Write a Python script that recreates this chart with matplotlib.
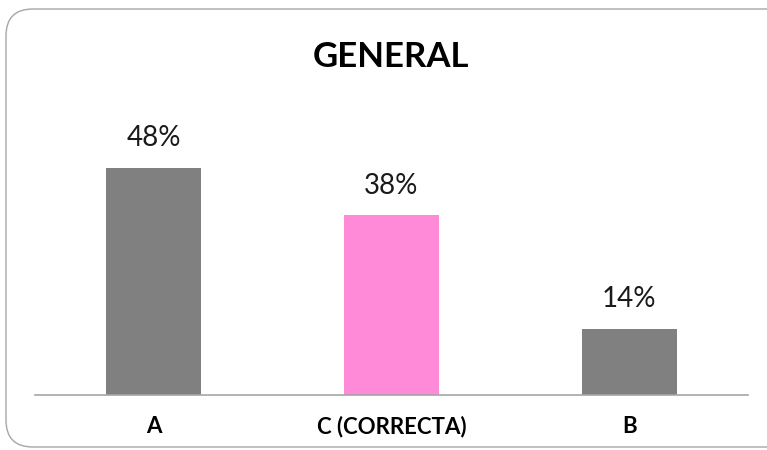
import matplotlib
matplotlib.use("Agg")
import matplotlib.pyplot as plt
from matplotlib.patches import FancyBboxPatch

categories = ["A", "C (CORRECTA)", "B"]
values = [48, 38, 14]
colors = ["#808080", "#FF8AD8", "#808080"]

W, H = 767, 450
fig = plt.figure(figsize=(W / 100, H / 100), dpi=100)
fig.patch.set_facecolor("white")

# rounded chart-area frame
frame = FancyBboxPatch((6 / W, 3 / H), (W + 20) / W, (H - 12) / H,
                       boxstyle="round,pad=0,rounding_size=0.035",
                       transform=fig.transFigure, facecolor="white",
                       edgecolor="#A6A6A6", linewidth=1.0,
                       mutation_aspect=W / H, zorder=-10)
fig.patches.append(frame)

ax = fig.add_axes([35 / W, (H - 395) / H, (748 - 35) / W, (395 - 109) / H])
ax.set_facecolor("none")
x = range(len(categories))
bars = ax.bar(x, values, width=0.4, color=colors)
ax.set_xlim(-0.5, len(categories) - 0.5)
ax.set_ylim(0, 60.5)

for b, v in zip(bars, values):
    ax.annotate(f"{v}%", (b.get_x() + b.get_width() / 2, v),
                xytext=(0, 12), textcoords="offset points",
                ha="center", va="bottom", fontsize=20, family="Lato",
                color="#1a1a1a")

ax.set_xticks(list(x))
ax.set_xticklabels(categories, fontsize=16, fontweight="bold", family="Lato")
ax.tick_params(axis="x", length=0, pad=15)
ax.set_yticks([])
for s in ["left", "right", "top"]:
    ax.spines[s].set_visible(False)
ax.spines["bottom"].set_color("#A6A6A6")
ax.spines["bottom"].set_linewidth(1.2)

fig.text(391 / W, 1 - 57 / H, "GENERAL", ha="center", va="center",
         fontsize=25, fontweight="bold", family="Lato")

fig.savefig("out.png", dpi=100)
